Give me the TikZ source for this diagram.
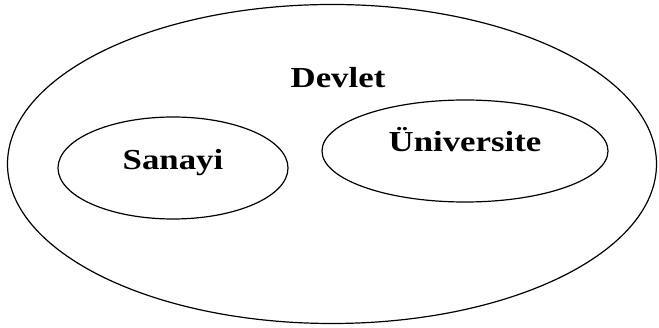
\documentclass[tikz,border=0pt]{standalone}
\usepackage{fontspec}
\setmainfont{Liberation Serif}[FakeStretch=1.2]
\usetikzlibrary{shapes.geometric}

\tikzset{
  set/.style={draw,ellipse,line width=1.2pt,inner sep=0pt},
  settext/.style={font=\fontsize{29}{29}\selectfont\bfseries,anchor=base,inner sep=0pt}
}

\begin{document}
\begin{tikzpicture}[x=1pt,y=-1pt]
        \useasboundingbox (0,0) rectangle (659,328);
        \node[set,minimum width=649pt,minimum height=319pt] (D) at (332,164) {};
        \node[set,minimum width=230pt,minimum height=102pt] (S) at (173,168) {};
        \node[set,minimum width=286pt,minimum height=102pt] (U) at (465,151) {};

        \node[settext] (Dt) at (338,88) {Devlet};
        \node[settext] (St) at (173,170) {Sanayi};
        \node[settext] (Ut) at (465,152) {Üniversite};
      \end{tikzpicture}
\end{document}
